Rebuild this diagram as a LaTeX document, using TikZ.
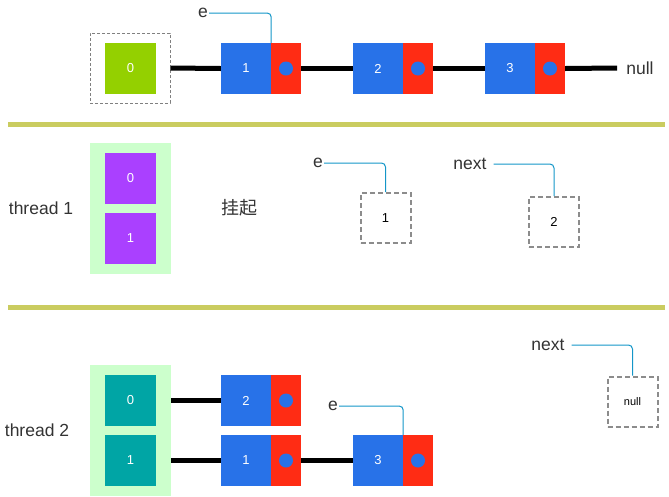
\documentclass[tikz,border=0pt]{standalone}
\usepackage{fontspec}
\setmainfont{Liberation Sans}
\newfontfamily\cjk{Noto Sans CJK SC}
\definecolor{cgreen}{RGB}{148,208,0}
\definecolor{cblue}{RGB}{40,114,232}
\definecolor{cred}{RGB}{255,44,20}
\definecolor{cpurple}{RGB}{170,64,255}
\definecolor{cteal}{RGB}{0,165,165}
\definecolor{clight}{RGB}{204,255,204}
\definecolor{csep}{RGB}{202,204,96}
\definecolor{cptr}{RGB}{20,150,200}
\definecolor{ctext}{RGB}{51,51,51}
\begin{document}
\begin{tikzpicture}[x=1pt,y=-1pt,
  sq/.style={rectangle,inner sep=0pt,minimum width=51pt,minimum height=51pt,text=white,font=\fontsize{13}{15}\selectfont},
  bluebox/.style={rectangle,inner sep=0pt,minimum width=50pt,minimum height=51pt,fill=cblue,text=white,font=\fontsize{13}{15}\selectfont},
  redbox/.style={rectangle,inner sep=0pt,minimum width=30pt,minimum height=51pt,fill=cred},
  dot/.style={circle,inner sep=0pt,minimum size=14pt,fill=cblue},
  link/.style={line width=5pt,black},
  ptr/.style={cptr,line width=1pt,rounded corners=4pt},
  lbl/.style={text=ctext,font=\fontsize{17.5}{20}\selectfont,inner sep=1pt},
  dbox/.style={rectangle,draw=gray!90,dashed,line width=2pt,dash pattern=on 5pt off 3pt,inner sep=0pt,minimum width=50pt,minimum height=50pt,font=\fontsize{13}{15}\selectfont},
  panel/.style={rectangle,fill=clight,inner sep=0pt},
  divider/.style={csep,line width=5pt}]
\useasboundingbox (0,0) rectangle (669,496);
% ---------- top row ----------
\node[rectangle,draw=gray,dashed,line width=1pt,dash pattern=on 3pt off 2pt,minimum width=80pt,minimum height=70pt,inner sep=0pt] (outer) at (130,68) {};
\node[sq,fill=cgreen] (g0) at (130.5,68.5) {0};
\node[bluebox] (t1b) at (246,68.5) {1};
\node[redbox] (t1r) at (286,68.5) {};
\node[dot] (t1d) at (t1r.center) {};
\node[bluebox] (t2b) at (378,68.5) {2};
\node[redbox] (t2r) at (418,68.5) {};
\node[dot] (t2d) at (t2r.center) {};
\node[bluebox] (t3b) at (510,68.5) {3};
\node[redbox] (t3r) at (550,68.5) {};
\node[dot] (t3d) at (t3r.center) {};
\node[lbl,inner xsep=9pt] (tnull) at (640,68) {null};
\draw[link] (outer.east) -- (t1b.west);
\draw[link] (t1r.east) -- (t2b.west);
\draw[link] (t2r.east) -- (t3b.west);
\draw[link] (t3r.east) -- (tnull.west);
\node[lbl] (te) at (203,13) {e};
\draw[ptr] (te.east) -| (t1b.north east);
% ---------- separators ----------
\draw[divider] (8,124.5) -- (665,124.5);
\draw[divider] (8,307) -- (665,307);
% ---------- thread 1 ----------
\node[lbl] (th1) at (41,208) {thread 1};
\node[panel,minimum width=81pt,minimum height=131pt] (p1) at (130.5,208.5) {};
\node[sq,fill=cpurple] (a0) at (130.5,178.5) {0};
\node[sq,fill=cpurple] (a1) at (130.5,238.5) {1};
\node[text=ctext,font=\cjk\fontsize{18}{20}\selectfont] (hang) at (239,208) {挂起};
\node[dbox] (m1) at (385.5,218) {1};
\node[lbl] (me) at (318,163) {e};
\draw[ptr] (me.east) -| (m1.north);
\node[dbox] (m2) at (554,222) {2};
\node[lbl] (mn) at (470,164) {next};
\draw[ptr] ([xshift=6pt]mn.east) -| (m2.north);
% ---------- thread 2 ----------
\node[lbl] (th2) at (37,430) {thread 2};
\node[panel,minimum width=81pt,minimum height=131pt] (p2) at (130.5,430.5) {};
\node[sq,fill=cteal] (b0) at (130.5,400.5) {0};
\node[sq,fill=cteal] (b1) at (130.5,460.5) {1};
\node[bluebox] (u2b) at (246,400.5) {2};
\node[redbox] (u2r) at (286,400.5) {};
\node[dot] (u2d) at (u2r.center) {};
\node[bluebox] (u1b) at (246,460.5) {1};
\node[redbox] (u1r) at (286,460.5) {};
\node[dot] (u1d) at (u1r.center) {};
\node[bluebox] (u3b) at (378,460.5) {3};
\node[redbox] (u3r) at (418,460.5) {};
\node[dot] (u3d) at (u3r.center) {};
\draw[link] (p2.east |- b0.east) -- (u2b.west);
\draw[link] (p2.east |- b1.east) -- (u1b.west);
\draw[link] (u1r.east) -- (u3b.west);
\node[lbl] (be) at (333,406) {e};
\draw[ptr] (be.east) -| (u3b.north east);
\node[dbox,font=\fontsize{11}{13}\selectfont] (bnull) at (632.5,401.5) {null};
\node[lbl] (bn) at (548,345) {next};
\draw[ptr] ([xshift=6pt]bn.east) -| (bnull.north);
\end{tikzpicture}
\end{document}
